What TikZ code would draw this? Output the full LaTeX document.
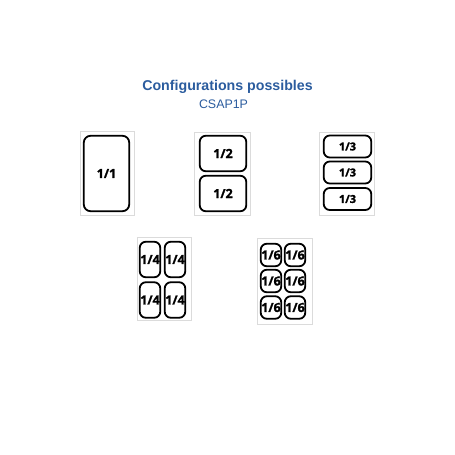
\documentclass[tikz,border=0pt]{standalone}
\usepackage{fontspec}
\setmainfont{Liberation Sans}
\newfontfamily\panfont{Open Sans}[BoldFeatures={FakeBold=1.6}]
\definecolor{titleblue}{RGB}{43,92,158}
\tikzset{
  tray/.style={draw=black!14, line width=0.7pt, inner sep=0pt},
  pan/.style={draw, line width=1.8pt, rounded corners=6pt, inner sep=0pt,
    font=\panfont\bfseries\fontsize{12.5}{12.5}\selectfont},
  smallpan/.style={pan, font=\panfont\bfseries\fontsize{11}{11}\selectfont}
}
\begin{document}
\begin{tikzpicture}[x=1pt,y=-1pt]
	\useasboundingbox (0,0) rectangle (455,455);
	\node[anchor=base, text=titleblue, font=\bfseries\fontsize{14.2}{14.2}\selectfont] (title) at (227.5,90) {Configurations possibles};
	\node[anchor=base, text=titleblue, font=\fontsize{12.4}{12.4}\selectfont] (model) at (223.5,108) {CSAP1P};
	% 1/1
	\node[tray, minimum width=54, minimum height=84] (tray1) at (107,173) {};
	\node[pan, rounded corners=7pt, minimum width=45.5, minimum height=75.5] (p11) at (106.5,173.5) {1/1};
	% 1/2
	\node[tray, minimum width=56, minimum height=83] (tray2) at (222,173.5) {};
	\node[pan, minimum width=46.5, minimum height=35.5] (p21) at (223,153.5) {1/2};
	\node[pan, minimum width=46.5, minimum height=35.5] (p22) at (223,193.5) {1/2};
	% 1/3
	\node[tray, minimum width=55, minimum height=83] (tray3) at (346.5,173.5) {};
	\foreach \y [count=\i] in {146.5,172.5,199}
		\node[smallpan, minimum width=47.5, minimum height=22] (p3\i) at (347.5,\y) {1/3};
	% 1/4
	\node[tray, minimum width=54, minimum height=83] (tray4) at (164,278.5) {};
	\foreach \x [count=\i] in {150,175}
		\foreach \y [count=\j] in {259.5,300}
			\node[pan, minimum width=20.5, minimum height=35.5] (p4\j\i) at (\x,\y) {1/4};
	% 1/6
	\node[tray, minimum width=55, minimum height=86] (tray5) at (284.5,281) {};
	\foreach \x [count=\i] in {271,295}
		\foreach \y [count=\j] in {255,281,307.5}
			\node[pan, minimum width=20.5, minimum height=22.5] (p6\j\i) at (\x,\y) {1/6};
\end{tikzpicture}
\end{document}
